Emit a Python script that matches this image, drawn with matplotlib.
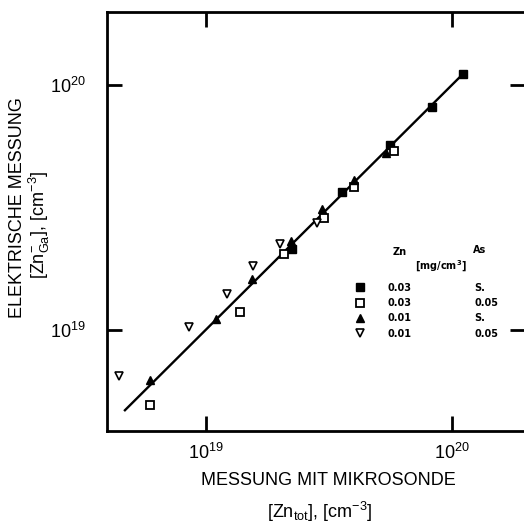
import matplotlib
matplotlib.use("Agg")
import matplotlib.pyplot as plt
from matplotlib.lines import Line2D
from matplotlib.ticker import FixedLocator, NullLocator

plt.rcParams['font.family'] = ['Liberation Sans Narrow', 'Liberation Sans', 'DejaVu Sans']
plt.rcParams['mathtext.default'] = 'regular'

# Zn 0.03 mg/cm3, As saturated (filled squares)
sq_full_x = [1.11e20, 8.3e19, 5.6e19, 3.57e19, 2.24e19]
sq_full_y = [1.11e20, 8.15e19, 5.7e19, 3.67e19, 2.15e19]
# Zn 0.03 mg/cm3, As 0.05 (open squares)
sq_open_x = [5.85e19, 4.02e19, 3.03e19, 2.08e19, 1.38e19, 5.96e18]
sq_open_y = [5.38e19, 3.85e19, 2.87e19, 2.05e19, 1.19e19, 4.94e18]
# Zn 0.01 mg/cm3, As saturated (filled triangles)
tri_full_x = [5.4e19, 4.02e19, 2.98e19, 2.22e19, 1.55e19, 1.10e19, 5.96e18]
tri_full_y = [5.3e19, 4.09e19, 3.11e19, 2.31e19, 1.61e19, 1.11e19, 6.25e18]
# Zn 0.01 mg/cm3, As 0.05 (open down triangles)
tri_open_x = [4.45e18, 8.6e18, 1.22e19, 1.56e19, 2.01e19, 2.83e19]
tri_open_y = [6.5e18, 1.03e19, 1.40e19, 1.83e19, 2.24e19, 2.73e19]

# line of equality
fit_x = [4.7e18, 1.1e20]
fit_y = [4.7e18, 1.1e20]

zn_labels = ["0.03", "0.03", "0.01", "0.01"]
as_labels = ["S.", "0.05", "S.", "0.05"]

fig = plt.figure(figsize=(5.24, 5.30), dpi=100)
ax = fig.add_axes([0.204, 0.187, 0.798, 0.791])

ax.plot(fit_x, fit_y, color='black', lw=1.7, zorder=2)

ms = 5.3
h1, = ax.plot(sq_full_x, sq_full_y, 's', ms=ms, mfc='black', mec='black', zorder=3)
h2, = ax.plot(sq_open_x, sq_open_y, 's', ms=ms, mfc='white', mec='black', mew=1.3, zorder=3)
h3, = ax.plot(tri_full_x, tri_full_y, '^', ms=ms + 0.5, mfc='black', mec='black', zorder=3)
h4, = ax.plot(tri_open_x, tri_open_y, 'v', ms=ms + 0.5, mfc='white', mec='black', mew=1.2, zorder=3)

ax.set_xscale('log')
ax.set_yscale('log')
ax.set_xlim(3.97e18, 1.99e20)
ax.set_ylim(3.87e18, 2.0e20)

for axis in (ax.xaxis, ax.yaxis):
    axis.set_major_locator(FixedLocator([1e19, 1e20]))
    axis.set_minor_locator(NullLocator())
ax.set_xticklabels([r'$10^{19}$', r'$10^{20}$'])
ax.set_yticklabels([r'$10^{19}$', r'$10^{20}$'])
ax.tick_params(which='major', direction='in', length=11, width=2.0,
               top=True, right=True, labelsize=13)
ax.tick_params(axis='x', pad=9)
ax.tick_params(axis='y', pad=15)
for sp in ax.spines.values():
    sp.set_linewidth(2.0)

# legend: marker + Zn column, then As column and headers
bold_prop = {'weight': 'bold', 'size': 7, 'family': 'DejaVu Sans'}
leg1 = ax.legend([h1, h2, h3, h4], zn_labels, loc='upper left',
                 bbox_to_anchor=(0.583, 0.365), frameon=False, labelspacing=0.55,
                 borderpad=0, handletextpad=2.3, handlelength=1.0, prop=bold_prop)
ax.add_artist(leg1)
blank = [Line2D([], [], linestyle='none') for _ in as_labels]
ax.legend(blank, as_labels, loc='upper left', bbox_to_anchor=(0.868, 0.365),
          handlelength=0, handletextpad=0, frameon=False, labelspacing=0.55,
          borderpad=0, prop=bold_prop)

bold7 = dict(fontsize=7, fontweight='bold', family='DejaVu Sans', transform=ax.transAxes)
ax.text(0.70, 0.427, 'Zn', ha='center', va='center', **bold7)
ax.text(0.892, 0.432, 'As', ha='center', va='center', **bold7)
ax.text(0.80, 0.392, r'[mg/cm$^3$]', ha='center', va='center', **bold7)

# axis titles
fig.text(0.626, 0.094, 'MESSUNG MIT MIKROSONDE', ha='center', va='center', fontsize=13)
fig.text(0.611, 0.034, r'[Zn$_{tot}$], [cm$^{-3}$]', ha='center', va='center', fontsize=13)
fig.text(0.034, 0.609, 'ELEKTRISCHE MESSUNG', ha='center', va='center',
         rotation=90, fontsize=13)
fig.text(0.076, 0.575, r'[Zn$_{Ga}^{-}$], [cm$^{-3}$]', ha='center', va='center',
         rotation=90, fontsize=13)

fig.savefig('out.png', dpi=100)
